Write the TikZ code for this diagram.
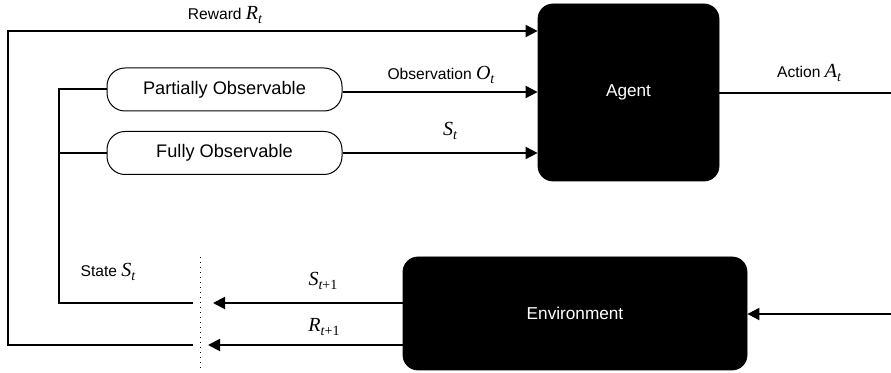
\documentclass[tikz,border=0pt]{standalone}
\usepackage{fontspec}
\setmainfont{Liberation Sans}
\newfontfamily\tms{Liberation Serif}
\usetikzlibrary{arrows.meta}
\newcommand\mv[2]{{\tms\fontsize{10pt}{11pt}\selectfont\itshape #1}\raisebox{-0.55ex}{\tms\fontsize{7pt}{8pt}\selectfont #2}}
\begin{document}
\begin{tikzpicture}[x=0.5pt,y=-0.5pt,
  blackbox/.style={draw=black,fill=black,rounded corners=7.5pt,text=white,font=\fontsize{8.6pt}{10pt}\selectfont,inner sep=0pt},
  obsbox/.style={draw=black,line width=0.5pt,rounded corners=9pt,minimum width=117.5pt,minimum height=21.5pt,inner sep=0pt,font=\fontsize{9.1pt}{11pt}\selectfont},
  conn/.style={line width=1pt},
  arr/.style={conn,-{Triangle[length=6pt,width=6pt]}},
  lbl/.style={font=\fontsize{7.8pt}{9pt}\selectfont,inner sep=0pt}]
\useasboundingbox (0,0) rectangle (891,373);
% boxes
\node[blackbox,minimum width=90.5pt,minimum height=88.5pt] (agent) at (628.5,92.5) {Agent};
\node[blackbox,minimum width=172pt,minimum height=56.5pt] (env) at (575,313.5) {Environment};
\node[obsbox] (po) at (224.5,89.5) {Partially Observable};
\node[obsbox] (fo) at (224.5,153) {Fully Observable};
% coordinates
\coordinate (rtop) at (8,31);
\coordinate (rbot) at (8,345);
\coordinate (rend) at (193,345);
\coordinate (rtip) at (208,345);
\coordinate (stop) at (59,89.5);
\coordinate (smid) at (59,153);
\coordinate (sbot) at (59,303);
\coordinate (send) at (193,303);
\coordinate (stip) at (213,303);
\coordinate (dtop) at (200,257);
\coordinate (dbot) at (200,370);
\coordinate (aout) at (891,93);
\coordinate (ein) at (891,314);
% connectors
\draw[arr] (rend) -- (rbot) -- (rtop) -- (rtop -| agent.west);
\draw[conn] (send) -- (sbot) -- (stop) -- (po.west);
\draw[conn] (smid) -- (fo.west);
\draw[arr] (po.east |- 0,92) -- (agent.west |- 0,92);
\draw[arr] (fo.east) -- (agent.west |- fo.east);
\draw[conn] (agent.east |- aout) -- (aout);
\draw[arr] (ein) -- (env.east |- ein);
\draw[arr] (env.west |- stip) -- (stip);
\draw[arr] (env.west |- rtip) -- (rtip);
\draw[dotted,line width=0.5pt] (dtop) -- (dbot);
% labels
\node[lbl] (lrew) at (225,15) {Reward \mv{R}{\itshape t}};
\node[lbl] (lobs) at (441,75) {Observation \mv{O}{\itshape t}};
\node[lbl] (lst) at (450,131) {\mv{S}{\itshape t}};
\node[lbl] (lact) at (809,73) {Action \mv{A}{\itshape t}};
\node[lbl] (lstate) at (108,272) {State \mv{S}{\itshape t}};
\node[lbl] (lsn) at (323,281) {\mv{S}{{\itshape t}+1}};
\node[lbl] (lrn) at (324,327) {\mv{R}{{\itshape t}+1}};
\end{tikzpicture}
\end{document}
